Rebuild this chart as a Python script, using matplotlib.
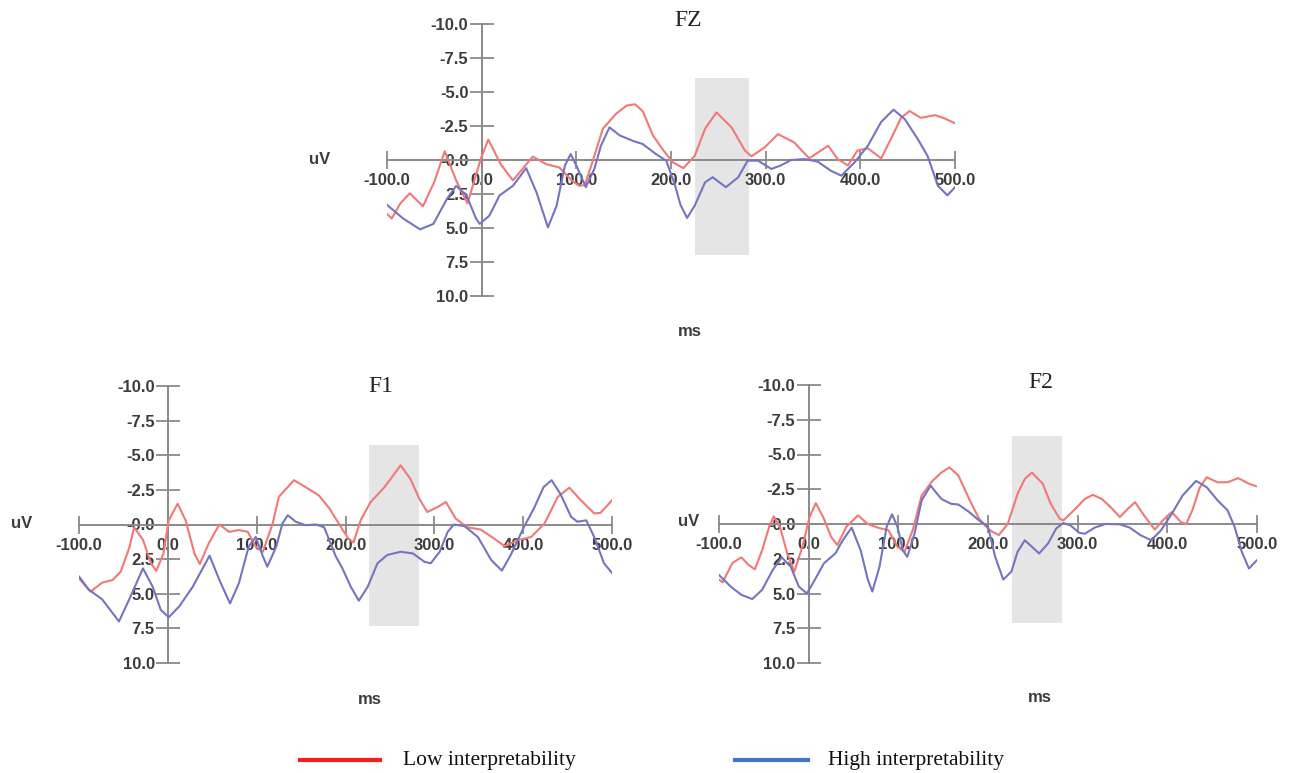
import matplotlib
matplotlib.use("Agg")
import matplotlib.pyplot as plt
from matplotlib.patches import Rectangle
from matplotlib.lines import Line2D

# ---------------- data (ms, uV; positive plotted downward) ----------------
fz_low_t = [-100, -95, -86, -76, -62, -50, -39, -27, -15, -1, 7, 20, 33, 54, 68, 82, 95, 103, 109,
            118, 128, 142, 153, 162, 170, 181, 192, 202, 213, 225, 236, 248, 264, 278, 285, 299,
            313, 330, 346, 366, 376, 387, 397, 408, 422, 432, 443, 452, 464, 479, 489, 500]
fz_low_uv = [3.97, 4.3, 3.2, 2.45, 3.4, 1.6, -0.64, 1.5, 3.2, -0.07, -1.5, 0.3, 1.5, -0.25, 0.3, 0.55,
             1.5, 1.9, 1.85, -0.07, -2.3, -3.4, -4.0, -4.1, -3.6, -1.8, -0.7, 0.17, 0.6, -0.3, -2.3,
             -3.5, -2.4, -0.7, -0.27, -0.93, -1.9, -1.3, -0.12, -1.05, -0.07, 0.4, -0.7, -0.86, -0.12,
             -1.5, -3.1, -3.6, -3.1, -3.3, -3.06, -2.7]

fz_high_t = [-100, -83, -65, -51, -37, -27, -16, -6, -2, 8, 19, 33, 47, 58, 70, 79, 88, 94, 100, 110,
             119, 126, 135, 146, 160, 170, 184, 195, 204, 210, 217, 225, 236, 244, 258, 271, 281, 292,
             306, 316, 327, 341, 355, 369, 380, 394, 408, 422, 435, 447, 461, 471, 482, 492, 500]
fz_high_uv = [3.3, 4.3, 5.1, 4.7, 2.9, 1.9, 2.6, 4.3, 4.7, 4.1, 2.6, 1.9, 0.6, 2.4, 4.95, 3.4, 0.4, -0.44,
              0.4, 2.0, 0.66, -1.05, -2.4, -1.8, -1.4, -1.18, -0.44, 0.05, 1.8, 3.3, 4.26, 3.36, 1.64,
              1.27, 2.0, 1.27, 0.05, 0.05, 0.66, 0.4, 0.0, -0.07, 0.12, 0.8, 1.15, 0.17, -1.05, -2.8,
              -3.7, -3.0, -1.5, -0.3, 1.9, 2.6, 2.0]

f1_low_t = [-100, -87, -74, -62, -53, -43, -38, -28, -19, -13, -5, 1, 11, 20, 30, 36, 46, 58, 69, 80,
            90, 99, 107, 118, 125, 142, 155, 170, 182, 195, 203, 209, 217, 228, 244, 262, 273, 283,
            292, 304, 313, 324, 337, 352, 367, 379, 394, 409, 424, 439, 452, 465, 480, 487, 500]
f1_low_uv = [3.9, 4.85, 4.2, 4.0, 3.4, 1.6, 0.2, 1.1, 2.8, 3.35, 2.1, -0.3, -1.5, -0.3, 2.1, 2.85, 1.37,
             0.0, 0.53, 0.4, 0.53, 1.6, 1.97, -0.07, -2.0, -3.2, -2.7, -2.1, -1.15, 0.2, 1.0, 1.3,
             -0.3, -1.6, -2.7, -4.27, -3.3, -1.87, -0.9, -1.27, -1.63, -0.43, 0.2, 0.36, 1.0, 1.56,
             1.13, 0.9, -0.07, -2.0, -2.66, -1.75, -0.8, -0.84, -1.75]

f1_high_t = [-100, -89, -74, -55, -42, -28, -17, -8, 1, 13, 28, 47, 58, 70, 80, 91, 99, 107, 112, 122,
             129, 135, 144, 155, 167, 176, 189, 196, 206, 215, 225, 236, 247, 262, 276, 289, 296, 306,
             315, 322, 334, 349, 364, 376, 386, 401, 412, 423, 432, 442, 454, 461, 471, 480, 491, 500]
f1_high_uv = [3.76, 4.7, 5.4, 7.0, 5.2, 3.17, 4.5, 6.16, 6.7, 5.9, 4.5, 2.25, 4.0, 5.7, 4.24, 1.6, 0.9,
              2.3, 3.05, 1.6, -0.07, -0.67, -0.2, 0.05, 0.0, 0.2, 2.3, 3.1, 4.5, 5.5, 4.5, 2.8, 2.2,
              1.97, 2.09, 2.7, 2.8, 1.97, 0.53, 0.0, 0.12, 0.9, 2.56, 3.33, 2.2, 0.17, -1.15, -2.7,
              -3.2, -2.2, -0.55, -0.2, -0.3, 0.9, 2.8, 3.5]

f2_low_t = [-100, -96, -85, -75, -67, -60, -52, -44, -39, -32, -24, -16, -7, 1, 8, 17, 25, 32, 42, 55,
            66, 77, 89, 99, 107, 116, 126, 138, 148, 157, 167, 179, 190, 202, 212, 222, 233, 241, 249,
            261, 270, 280, 284, 296, 308, 317, 327, 337, 347, 356, 364, 374, 386, 395, 405, 415, 421,
            428, 436, 444, 456, 467, 479, 491, 500]
f2_low_uv = [4.0, 4.2, 2.8, 2.4, 2.95, 3.26, 1.9, 0.2, -0.55, 0.2, 2.1, 3.43, 1.64, -0.5, -1.5, -0.38,
             0.93, 1.52, 0.2, -0.62, 0.0, 0.26, 0.45, 1.64, 2.0, 0.45, -2.05, -3.1, -3.7, -4.07, -3.48,
             -1.8, -0.38, 0.45, 0.8, 0.0, -2.17, -3.24, -3.7, -2.9, -1.45, -0.38, -0.26, -1.0, -1.8,
             -2.1, -1.8, -1.2, -0.5, -1.1, -1.57, -0.62, 0.4, -0.26, -0.86, -0.14, 0.0, -1.0, -2.6,
             -3.36, -3.0, -3.0, -3.3, -2.9, -2.7]

f2_high_t = [-100, -87, -75, -63, -52, -40, -30, -20, -11, -2, 7, 17, 30, 38, 48, 58, 66, 71, 79, 87,
             93, 99, 105, 110, 118, 126, 136, 148, 159, 167, 179, 190, 200, 208, 217, 226, 233, 241,
             249, 257, 267, 276, 284, 292, 302, 308, 319, 331, 347, 358, 370, 382, 393, 405, 417, 432,
             444, 456, 467, 475, 483, 491, 500]
f2_high_uv = [3.67, 4.5, 5.1, 5.4, 4.74, 3.3, 2.4, 3.07, 4.5, 5.0, 4.0, 2.83, 2.1, 1.17, 0.26, 1.9, 4.0,
              4.86, 3.07, 0.2, -0.7, 0.2, 1.9, 2.36, 0.7, -1.7, -2.76, -1.8, -1.45, -1.4, -0.86, -0.26,
              0.2, 2.36, 4.0, 3.43, 2.0, 1.17, 1.64, 2.12, 1.4, 0.33, -0.07, 0.1, 0.64, 0.7, 0.26, 0.0,
              0.02, 0.26, 0.8, 1.17, 0.45, -0.74, -2.05, -3.1, -2.64, -1.7, -1.0, 0.2, 2.0, 3.2, 2.6]

# shaded analysis window per panel: (start ms, end ms, top uV, bottom uV)
fz_window = [225, 282, -6.0, 7.0]
f1_window = [226, 283, -5.75, 7.3]
f2_window = [227, 282, -6.35, 7.1]

x_ticks = [-100, 0, 100, 200, 300, 400, 500]
x_labels = ["-100.0", "0.0", "100.0", "200.0", "300.0", "400.0", "500.0"]
y_ticks = [-10, -7.5, -5, -2.5, 0, 2.5, 5, 7.5, 10]
y_labels = ["-10.0", "-7.5", "-5.0", "-2.5", "-0.0", "2.5", "5.0", "7.5", "10.0"]

LOW_C = "#f27878"
HIGH_C = "#7474c2"
AXIS_C = "#8a8a8a"
TXT_C = "#3c3c3c"

W, H = 1295, 773
fig = plt.figure(figsize=(W / 100, H / 100), dpi=100)


def px_axes(l, r, t, b):
    return fig.add_axes([l / W, 1 - b / H, (r - l) / W, (b - t) / H])


def ftext(x, y, s, **kw):
    fig.text(x / W, 1 - y / H, s, **kw)


def draw_panel(ax, low_t, low_uv, high_t, high_uv, win):
    ax.set_xlim(-100, 500)
    ax.set_ylim(10, -10)
    ax.patch.set_alpha(0)
    for side in ["top", "right"]:
        ax.spines[side].set_visible(False)
    ax.spines["left"].set_position(("data", 0))
    ax.spines["bottom"].set_position(("data", 0))
    for side in ["left", "bottom"]:
        ax.spines[side].set_color(AXIS_C)
        ax.spines[side].set_linewidth(1.4)
        ax.spines[side].set_zorder(2)

    ax.add_patch(Rectangle((win[0], win[2]), win[1] - win[0], win[3] - win[2],
                           facecolor="#e5e5e5", edgecolor="none", zorder=1))

    ax.plot(low_t, low_uv, color=LOW_C, lw=1.5, zorder=3, solid_joinstyle="round")
    ax.plot(high_t, high_uv, color=HIGH_C, lw=1.5, zorder=3, solid_joinstyle="round")

    ax.set_xticks(x_ticks)
    ax.set_xticklabels(x_labels)
    ax.set_yticks(y_ticks)
    ax.set_yticklabels(y_labels)
    ax.tick_params(axis="x", direction="inout", length=13, width=1.3, color=AXIS_C, pad=3,
                   labelsize=12, labelcolor=TXT_C)
    ax.tick_params(axis="y", direction="inout", length=17, width=1.3, color=AXIS_C, pad=1,
                   labelsize=12, labelcolor=TXT_C)
    for lab in ax.get_xticklabels() + ax.get_yticklabels():
        lab.set_fontfamily("Liberation Sans")
        lab.set_fontweight("bold")


ax_fz = px_axes(387, 955, 24, 296)
draw_panel(ax_fz, fz_low_t, fz_low_uv, fz_high_t, fz_high_uv, fz_window)
ax_f1 = px_axes(79, 612, 386, 663)
draw_panel(ax_f1, f1_low_t, f1_low_uv, f1_high_t, f1_high_uv, f1_window)
ax_f2 = px_axes(719, 1257, 385, 663)
draw_panel(ax_f2, f2_low_t, f2_low_uv, f2_high_t, f2_high_uv, f2_window)

# titles and axis names
title_kw = dict(family="Liberation Serif", size=17, color="#222222", ha="center", va="center")
ftext(688, 21, "FZ", **title_kw)
ftext(381, 386, "F1", **title_kw)
ftext(1041, 383, "F2", **title_kw)

lab_kw = dict(family="Liberation Sans", size=12, weight="bold", color=TXT_C, ha="center", va="center")
ftext(320, 160, "uV", **lab_kw)
ftext(22, 523, "uV", **lab_kw)
ftext(689, 522, "uV", **lab_kw)
ftext(690, 332, "ms", **lab_kw)
ftext(370, 700, "ms", **lab_kw)
ftext(1040, 697, "ms", **lab_kw)

# legend
fig.add_artist(Line2D([300 / W, 380 / W], [1 - 760 / H, 1 - 760 / H], color="#ff1a1a", lw=3))
fig.add_artist(Line2D([735 / W, 808 / W], [1 - 760 / H, 1 - 760 / H], color="#4472c4", lw=3))
leg_kw = dict(family="Liberation Serif", size=15.5, color="#111111", ha="left", va="center")
ftext(403, 760, "Low interpretability", **leg_kw)
ftext(828, 760, "High interpretability", **leg_kw)

fig.savefig("out.png", dpi=100, facecolor="white")
